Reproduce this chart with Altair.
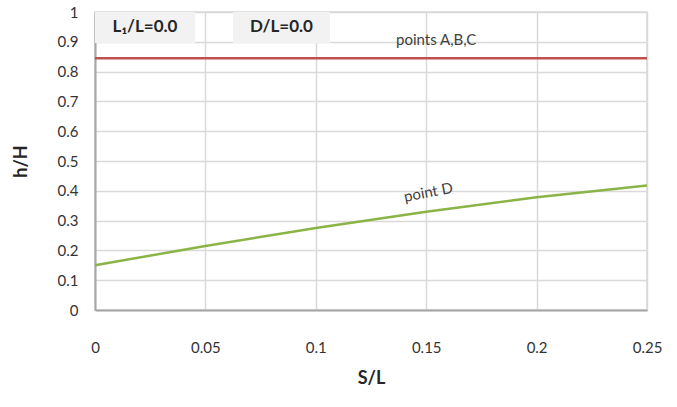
import altair as alt
import pandas as pd

# data
s_over_l = [0.0, 0.05, 0.10, 0.15, 0.20, 0.25]
point_d = [0.150, 0.215, 0.275, 0.330, 0.378, 0.418]
points_abc = [0.845, 0.845, 0.845, 0.845, 0.845, 0.845]
x_ticks = [0, 0.05, 0.1, 0.15, 0.2, 0.25]
y_ticks = [0, 0.1, 0.2, 0.3, 0.4, 0.5, 0.6, 0.7, 0.8, 0.9, 1.0]

box_labels = ["L\u2081/L=0.0", "D/L=0.0"]
box_x0 = [0.0, 0.0625]
box_x1 = [0.0453, 0.1064]
box_y0 = [0.896, 0.896]
box_y1 = [1.0, 1.0]

curve_names = ["points A,B,C", "point D"]
curve_label_x = [0.1545, 0.151]
curve_label_y = [0.905, 0.395]
curve_label_angle = [0, 349]

FONT = "Lato"

df = pd.DataFrame({"x": s_over_l * 2,
                   "y": points_abc + point_d,
                   "series": ["A"] * 6 + ["D"] * 6})

xs = alt.Scale(domain=[0, 0.25], nice=False)
ys = alt.Scale(domain=[0, 1], nice=False)

xax = alt.Axis(values=x_ticks, labelExpr="format(datum.value, '')",
               grid=True, gridColor="#d9d9d9", gridWidth=1.5, labelOverlap=False,
               labelFlush=False,
               ticks=False, domainColor="#a6a6a6", domainWidth=2,
               labelFont=FONT, labelFontSize=15, labelColor="#333333",
               labelPadding=30, titleFont=FONT, titleFontSize=18,
               titleFontWeight="bold", titleColor="#262626", titlePadding=14)
yax = alt.Axis(values=y_ticks, labelExpr="format(datum.value, '')",
               grid=True, gridColor="#d9d9d9", gridWidth=1.5, labelOverlap=False,
               labelFlush=False,
               ticks=False, domainColor="#a6a6a6", domainWidth=2,
               labelFont=FONT, labelFontSize=15, labelColor="#333333",
               labelPadding=17, titleFont=FONT, titleFontSize=18,
               titleFontWeight="bold", titleColor="#262626", titlePadding=27)

lines = alt.Chart(df).mark_line(strokeWidth=2.5).encode(
    x=alt.X("x:Q", scale=xs, title="S/L", axis=xax),
    y=alt.Y("y:Q", scale=ys, title="h/H", axis=yax),
    color=alt.Color("series:N", scale=alt.Scale(domain=["A", "D"], range=["#c0504d", "#8ab446"]),
                    legend=None),
)

box_df = pd.DataFrame({"label": box_labels, "x0": box_x0, "x1": box_x1,
                       "y0": box_y0, "y1": box_y1})
boxes = alt.Chart(box_df).mark_rect(color="#f2f2f2").encode(
    x=alt.X("x0:Q", scale=xs, title="S/L", axis=xax), x2="x1:Q",
    y=alt.Y("y0:Q", scale=ys, title="h/H", axis=yax), y2="y1:Q")
box_text = alt.Chart(box_df).transform_calculate(
    xm="(datum.x0 + datum.x1) / 2", ym="(datum.y0 + datum.y1) / 2"
).mark_text(font=FONT, fontSize=17, fontWeight="bold", color="#262626").encode(
    x=alt.X("xm:Q", scale=xs, title="S/L", axis=xax),
    y=alt.Y("ym:Q", scale=ys, title="h/H", axis=yax), text="label:N")

lab_df = pd.DataFrame({"name": curve_names, "x": curve_label_x, "y": curve_label_y,
                       "a": curve_label_angle})
labels = alt.Chart(lab_df).mark_text(font=FONT, fontSize=15, color="#404040").encode(
    x=alt.X("x:Q", scale=xs, title="S/L", axis=xax),
    y=alt.Y("y:Q", scale=ys, title="h/H", axis=yax), text="name:N",
    angle=alt.Angle("a:Q", scale=None))

chart = alt.layer(lines, boxes, box_text, labels).properties(
    width=552, height=298, autosize="none",
    padding={"left": 95, "top": 12, "right": 30, "bottom": 97},
    background="white",
).configure_view(stroke="#d9d9d9", strokeWidth=1.5)

chart.save("out.html", embed_options={"renderer": "svg", "actions": False})
